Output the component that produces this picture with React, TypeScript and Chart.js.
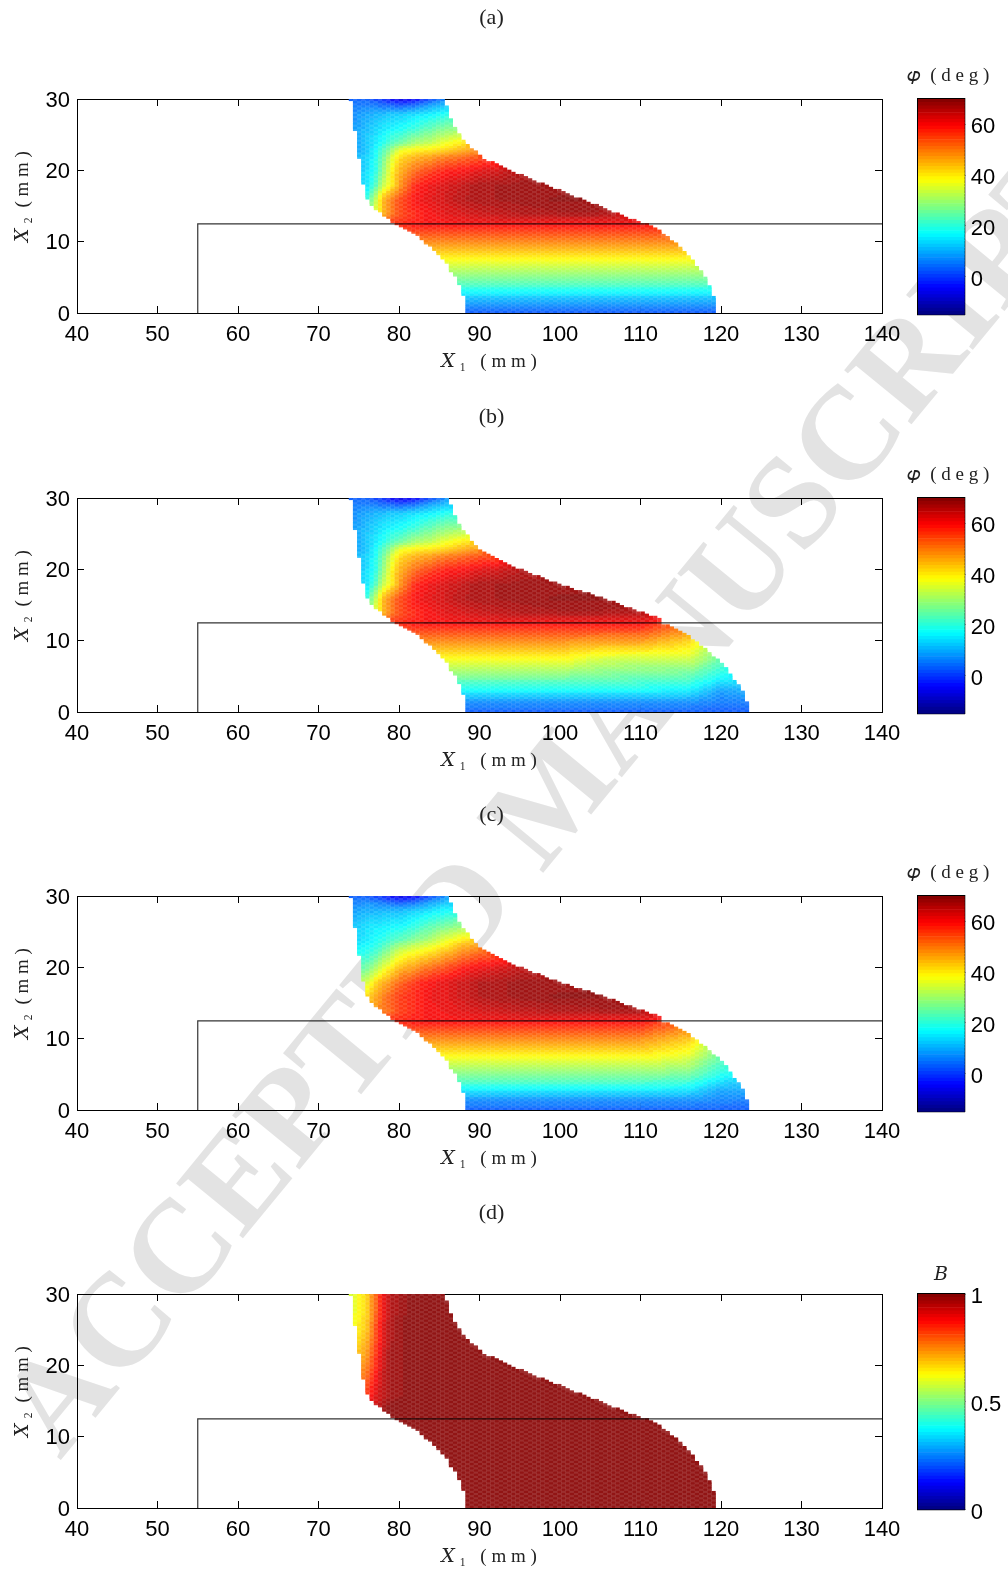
import React, { useEffect, useRef } from "react";
import { Chart, registerables } from "chart.js";
Chart.register(...registerables);

// ---- axis data
const xTicks = [40, 50, 60, 70, 80, 90, 100, 110, 120, 130, 140];
const yTicks = [0, 10, 20, 30];
const phiTicks = [0, 20, 40, 60];
const bTicks = [0, 0.5, 1];
const panelLabels = ["(a)", "(b)", "(c)", "(d)"];
const specimenX1 = [55, 55, 140];
const specimenX2 = [0, 12.5, 12.5];

// ---- edge of the region (X2 at the bottom of each step, X1)
const leftX2 = [0, 2.57, 4.12, 5.28, 5.98, 7.01, 7.62, 8.32, 8.79, 9.35, 9.82, 10.33, 10.8, 11.13, 11.41, 11.83, 12.16, 12.53, 12.9, 13.23, 13.6, 14.17, 14.63, 15.24, 16.13, 18.05, 21.65, 25.62, 29.83];
const leftX1 = [88.34, 87.81, 87.31, 86.77, 86.27, 85.73, 85.2, 84.7, 84.16, 83.62, 83.13, 82.59, 82.09, 81.55, 81.05, 80.52, 80.02, 79.48, 78.94, 78.44, 77.95, 77.41, 76.87, 76.37, 75.88, 75.34, 74.8, 74.26, 73.76];

const rightX2A = [0, 1.87, 3.65, 4.68, 5.75, 7.15, 8.09, 9.26, 10.19, 11.03, 11.83, 12.53, 13.09, 13.7, 15.57, 17.44, 19.31, 19.78, 20.34, 20.95, 21.32, 21.65, 22.11, 22.67, 23.05, 23.66, 24.36, 25.3, 26.09, 27.58, 29.55, 30];
const rightX1A = [119.4, 119.12, 118.62, 118.08, 117.58, 116.55, 115.93, 114.89, 113.86, 112.82, 111.79, 110.25, 108.68, 107.44, 103.29, 99.15, 95.05, 94.02, 92.98, 91.95, 90.91, 90.42, 89.88, 89.38, 88.84, 88.34, 87.8, 87.31, 86.81, 86.27, 85.73, 85.73];

const rightX2B = [0, 1.17, 2.57, 3.5, 4.2, 5.14, 6.78, 8.18, 9.35, 10.75, 11.92, 12.25, 12.53, 12.76, 13, 14.63, 16.36, 17.77, 19.17, 20.1, 20.71, 21.27, 21.83, 22.44, 22.9, 23.5, 24.08, 24.8, 25.5, 26.4, 27.7, 29.55, 30];
const rightX1B = [123.6, 123.3, 122.8, 122.3, 121.7, 121.2, 120.07, 118.6, 117.4, 115.7, 114.07, 112.82, 111.8, 113.36, 112.4, 108.27, 104.1, 99.98, 96.67, 94.6, 93.56, 92.5, 91.49, 90.46, 89.88, 89.38, 88.88, 88.34, 87.8, 87.31, 86.81, 86.27, 86.27];

// ---- field samples
const fieldX1 = [74, 76, 77, 78, 79, 80, 82, 84, 86, 88, 90, 95, 100, 105, 110, 116, 120, 124];
const fieldX2 = [0, 1.5, 3, 5, 7.5, 10, 12.5, 14, 16, 18, 20, 22, 23, 24, 26, 28, 29, 30];

const phiA = [
  [2, 2, 2, 2, 2, 2, 2, 2, 2, 2, 2, 2, 2, 2, 2, 2, 2, 2],
  [8, 8, 8, 8, 8, 8, 8, 8, 8, 8, 8, 8, 8, 8, 8, 8, 8, 8],
  [16, 16, 16, 16, 16, 16, 16, 16, 16, 16, 16, 16, 16, 16, 16, 16, 16, 16],
  [27, 27, 27, 27, 27, 27, 27, 27, 27, 27, 27, 27, 27, 27, 27, 27, 27, 27],
  [38, 38, 38, 38, 38, 38, 38, 38, 38, 38, 38, 38, 38, 38, 38, 38, 38, 38],
  [49, 49, 49, 49, 49, 49, 49, 49, 49, 49, 49, 49, 49, 49, 49, 49, 49, 49],
  [58, 58, 58, 58, 58, 58, 59, 60, 60, 60, 60, 60, 60, 60, 60, 60, 60, 60],
  [12, 20, 34, 44, 50, 54, 58, 60, 62, 63, 64, 66, 67, 67, 63, 60, 60, 60],
  [10, 20, 32, 45, 50, 54, 60, 62, 64, 66, 67, 68, 69, 69, 67, 66, 66, 66],
  [9, 14, 22, 33, 39, 47, 58, 61, 63, 65, 67, 68, 68, 68, 68, 68, 68, 68],
  [9, 14, 18, 28, 38, 45, 52, 56, 59, 60, 62, 66, 66, 66, 66, 66, 66, 66],
  [8, 13, 17, 25, 34, 41, 45, 47, 50, 52, 54, 56, 56, 56, 56, 56, 56, 56],
  [8, 12, 16, 22, 28, 36, 39, 40, 42, 45, 47, 47, 47, 47, 47, 47, 47, 47],
  [8, 12, 15, 18, 22, 25, 30, 33, 37, 40, 42, 42, 42, 42, 42, 42, 42, 42],
  [7, 11, 13, 15, 16, 17, 20, 24, 27, 28, 28, 28, 28, 28, 28, 28, 28, 28],
  [6, 9, 10, 11, 12, 12, 14, 16, 18, 18, 18, 18, 18, 18, 18, 18, 18, 18],
  [5, 6, 6, 5, 5, 4, 6, 10, 13, 13, 13, 13, 13, 13, 13, 13, 13, 13],
  [3, 3, 1, -1, -4, -6, -4, 2, 8, 8, 8, 8, 8, 8, 8, 8, 8, 8],
];

const phiB = [
  [2, 2, 2, 2, 2, 2, 2, 2, 2, 2, 2, 2, 2, 2, 2, 2, 2, 2],
  [7, 7, 7, 7, 7, 7, 7, 7, 7, 7, 7, 7, 7, 7, 7, 7, 5, 5],
  [16, 16, 16, 16, 16, 16, 16, 16, 16, 16, 16, 16, 16, 16, 16, 15, 8, 10],
  [26, 26, 26, 26, 26, 26, 26, 26, 26, 26, 26, 26, 26, 25, 24, 23, 17, 14],
  [38, 38, 38, 38, 38, 38, 38, 38, 38, 38, 38, 38, 38, 34, 33, 34, 24, 20],
  [49, 49, 49, 49, 49, 49, 49, 49, 49, 49, 49, 49, 48, 47, 47, 42, 30, 30],
  [58, 58, 58, 58, 58, 58, 59, 60, 60, 60, 60, 60, 60, 60, 60, 52, 40, 40],
  [12, 20, 34, 44, 50, 54, 58, 60, 62, 63, 64, 66, 67, 67, 66, 65, 65, 65],
  [10, 20, 32, 45, 50, 54, 60, 62, 64, 66, 67, 68, 69, 69, 69, 69, 69, 69],
  [9, 14, 22, 33, 39, 47, 58, 61, 63, 65, 67, 68, 68, 68, 68, 68, 68, 68],
  [9, 14, 18, 28, 38, 45, 52, 56, 59, 60, 62, 66, 66, 66, 66, 66, 66, 66],
  [8, 13, 17, 25, 34, 41, 45, 47, 50, 52, 54, 56, 56, 56, 56, 56, 56, 56],
  [8, 12, 16, 22, 28, 36, 39, 40, 42, 45, 47, 47, 47, 47, 47, 47, 47, 47],
  [8, 12, 15, 18, 22, 25, 30, 33, 37, 40, 42, 42, 42, 42, 42, 42, 42, 42],
  [7, 11, 13, 15, 16, 17, 20, 24, 27, 28, 28, 28, 28, 28, 28, 28, 28, 28],
  [6, 9, 10, 11, 12, 12, 14, 16, 18, 18, 18, 18, 18, 18, 18, 18, 18, 18],
  [5, 6, 6, 5, 5, 4, 6, 10, 13, 13, 13, 13, 13, 13, 13, 13, 13, 13],
  [3, 3, 1, -1, -4, -6, -4, 2, 8, 8, 8, 8, 8, 8, 8, 8, 8, 8],
];

const phiC = [
  [2, 2, 2, 2, 2, 2, 2, 2, 2, 2, 2, 2, 2, 2, 2, 2, 2, 2],
  [7, 7, 7, 7, 7, 7, 7, 7, 7, 7, 7, 7, 7, 7, 7, 7, 6, 5],
  [16, 16, 16, 16, 16, 16, 16, 16, 16, 16, 16, 16, 16, 16, 16, 15, 9, 10],
  [27, 27, 27, 27, 27, 27, 27, 27, 27, 27, 27, 27, 27, 27, 27, 25, 18, 14],
  [38, 38, 38, 38, 38, 38, 38, 38, 38, 38, 38, 38, 38, 38, 38, 35, 24, 20],
  [49, 49, 49, 49, 49, 49, 49, 49, 49, 49, 49, 49, 48, 48, 48, 43, 30, 30],
  [58, 58, 58, 58, 58, 58, 59, 60, 60, 60, 60, 60, 60, 60, 60, 52, 40, 40],
  [40, 44, 47, 50, 52, 55, 58, 60, 61, 62, 63, 65, 66, 67, 67, 66, 66, 66],
  [38, 42, 46, 50, 53, 56, 58, 61, 62, 64, 66, 68, 69, 69, 69, 69, 69, 69],
  [28, 34, 41, 45, 48, 52, 57, 60, 62, 64, 66, 68, 68, 68, 68, 68, 68, 68],
  [22, 26, 30, 36, 40, 44, 48, 52, 55, 59, 61, 65, 66, 66, 66, 66, 66, 66],
  [17, 19, 22, 27, 30, 36, 39, 42, 46, 50, 53, 56, 56, 56, 56, 56, 56, 56],
  [15, 17, 19, 22, 26, 30, 34, 37, 41, 46, 48, 48, 48, 48, 48, 48, 48, 48],
  [13, 15, 17, 19, 21, 23, 27, 31, 36, 40, 42, 42, 42, 42, 42, 42, 42, 42],
  [11, 14, 15, 15, 16, 16, 19, 23, 26, 28, 28, 28, 28, 28, 28, 28, 28, 28],
  [8, 10, 10, 11, 11, 11, 13, 15, 17, 18, 18, 18, 18, 18, 18, 18, 18, 18],
  [6, 7, 7, 6, 5, 4, 6, 10, 13, 13, 13, 13, 13, 13, 13, 13, 13, 13],
  [3, 3, 1, -1, -4, -6, -4, 2, 8, 8, 8, 8, 8, 8, 8, 8, 8, 8],
];

const bD = [
  [1, 1, 1, 1, 1, 1, 1, 1, 1, 1, 1, 1, 1, 1, 1, 1, 1, 1],
  [1, 1, 1, 1, 1, 1, 1, 1, 1, 1, 1, 1, 1, 1, 1, 1, 1, 1],
  [1, 1, 1, 1, 1, 1, 1, 1, 1, 1, 1, 1, 1, 1, 1, 1, 1, 1],
  [1, 1, 1, 1, 1, 1, 1, 1, 1, 1, 1, 1, 1, 1, 1, 1, 1, 1],
  [1, 1, 1, 1, 1, 1, 1, 1, 1, 1, 1, 1, 1, 1, 1, 1, 1, 1],
  [1, 1, 1, 1, 1, 1, 1, 1, 1, 1, 1, 1, 1, 1, 1, 1, 1, 1],
  [1, 1, 1, 1, 1, 1, 1, 1, 1, 1, 1, 1, 1, 1, 1, 1, 1, 1],
  [0.9, 0.9, 0.93, 0.97, 1, 1, 1, 1, 1, 1, 1, 1, 1, 1, 1, 1, 1, 1],
  [0.8, 0.84, 0.9, 0.94, 0.97, 0.98, 1, 1, 1, 1, 1, 1, 1, 1, 1, 1, 1, 1],
  [0.7, 0.8, 0.88, 0.94, 0.97, 0.98, 1, 1, 1, 1, 1, 1, 1, 1, 1, 1, 1, 1],
  [0.67, 0.76, 0.84, 0.93, 0.97, 0.98, 1, 1, 1, 1, 1, 1, 1, 1, 1, 1, 1, 1],
  [0.65, 0.73, 0.83, 0.92, 0.97, 0.98, 1, 1, 1, 1, 1, 1, 1, 1, 1, 1, 1, 1],
  [0.63, 0.72, 0.82, 0.91, 0.97, 0.98, 1, 1, 1, 1, 1, 1, 1, 1, 1, 1, 1, 1],
  [0.62, 0.7, 0.81, 0.9, 0.96, 0.98, 1, 1, 1, 1, 1, 1, 1, 1, 1, 1, 1, 1],
  [0.6, 0.68, 0.8, 0.9, 0.96, 0.98, 1, 1, 1, 1, 1, 1, 1, 1, 1, 1, 1, 1],
  [0.58, 0.67, 0.78, 0.88, 0.95, 0.97, 1, 1, 1, 1, 1, 1, 1, 1, 1, 1, 1, 1],
  [0.58, 0.67, 0.78, 0.88, 0.95, 0.97, 1, 1, 1, 1, 1, 1, 1, 1, 1, 1, 1, 1],
  [0.58, 0.67, 0.78, 0.88, 0.95, 0.97, 1, 1, 1, 1, 1, 1, 1, 1, 1, 1, 1, 1],
];

// ---- display helpers
const CELL_X = 0.518;
const CELL_Y = 0.3;
const CELL_X0 = 73.76;
const PLOT_L = 77;
const PLOT_R = 882;
const PLOT_H = 214;

const clamp01 = (v: number) => Math.max(0, Math.min(1, v));
function jet(t: number): [number, number, number] {
  const f = (c: number) => clamp01(1.5 - Math.abs(4 * t - c));
  return [f(3), f(2), f(1)];
}
function levelColor(t: number, alpha: number) {
  const level = Math.min(63, Math.max(0, Math.floor(clamp01(t) * 64)));
  const [r, g, b] = jet((level + 0.5) / 64);
  const mix = (c: number) => Math.round(255 * (c * alpha + 1 - alpha));
  return `rgb(${mix(r)},${mix(g)},${mix(b)})`;
}
function bracket(xs: number[], v: number) {
  let i = 0;
  while (i < xs.length - 2 && v > xs[i + 1]) i++;
  const f = (v - xs[i]) / (xs[i + 1] - xs[i]);
  return [i, Math.max(0, Math.min(1, f))];
}
function sampleField(table: number[][], x: number, y: number) {
  const [i, fx] = bracket(fieldX1, x);
  const [j, fy] = bracket(fieldX2, y);
  const a = table[j][i] * (1 - fx) + table[j][i + 1] * fx;
  const b = table[j + 1][i] * (1 - fx) + table[j + 1][i + 1] * fx;
  return a * (1 - fy) + b * fy;
}
function edgeAt(x2s: number[], x1s: number[], y: number) {
  const [i, f] = bracket(x2s, y);
  return x1s[i] * (1 - f) + x1s[i + 1] * f;
}
function leftStep(y: number) {
  let v = leftX1[0];
  for (let i = 0; i < leftX2.length; i++) if (y >= leftX2[i]) v = leftX1[i];
  return v;
}

function buildCells(table: number[][], rX2: number[], rX1: number[], lo: number, hi: number) {
  const pts: { x: number; y: number }[] = [];
  const colors: string[] = [];
  const rows = Math.round(30 / CELL_Y);
  for (let r = 0; r <= rows; r++) {
    const y = r * CELL_Y;
    const left = leftStep(y);
    const right = edgeAt(rX2, rX1, y);
    for (let k = 0; k < 110; k++) {
      const cx = CELL_X0 + (k + 0.5) * CELL_X;
      if (cx - CELL_X / 2 < left - 0.1 || cx + CELL_X / 2 > right + 0.3) continue;
      pts.push({ x: cx, y });
      // the printed cells overlap a little: alternate a denser and a paler cell
      const alpha = (r + k) % 2 ? 0.82 : 0.92;
      colors.push(levelColor((sampleField(table, cx, y) - lo) / (hi - lo), alpha));
    }
  }
  return { pts, colors };
}

const tickFont = { family: "'Liberation Sans', Arial, sans-serif", size: 22 };
const serif = "'Liberation Serif', 'DejaVu Serif', serif";
const NB = "\u00A0";
const PREFIX = NB + NB + NB + NB;
const X1_TITLE = PREFIX + "𝑋" + NB + "₁" + NB + NB + NB + "(" + NB + "m" + NB + "m" + NB + ")";
const X2_TITLE = PREFIX + "𝑋" + NB + "₂" + NB + NB + "(" + NB + "m" + NB + "m" + NB + ")";

function fixed(kind: "width" | "height", v: number) {
  return (s: any) => {
    s[kind] = v;
  };
}
const setTicks = (vals: number[]) => (s: any) => {
  s.ticks = vals.map((value) => ({ value }));
};
const plainLabel = (v: number) => String(v);

// canvas 'middle' text sits a little high for these digits
const nudgeLabels = (dy: number) => ({
  id: "nudgeLabels",
  beforeDraw(chart: any) {
    const s = chart.scales.y;
    if (!s) return;
    for (const item of s.getLabelItems()) {
      if (!item.nudged) {
        item.options.translation[1] += dy;
        item.nudged = true;
      }
    }
  },
});

function Panel({ top, label, table, rX2, rX1, lo, hi }: any) {
  const ref = useRef<HTMLCanvasElement>(null);
  useEffect(() => {
    const { pts, colors } = buildCells(table, rX2, rX1, lo, hi);
    const line = specimenX1.map((x, i) => ({ x, y: specimenX2[i] }));
    const grid = { drawOnChartArea: false, tickLength: -7, tickColor: "#000", tickWidth: 1 };
    const border = { display: true, color: "#000", width: 1 };
    const chart = new Chart(ref.current!, {
      type: "scatter",
      plugins: [nudgeLabels(1.7)],
      data: {
        datasets: [
          { data: line, showLine: true, borderColor: "rgba(0,0,0,0.8)", borderWidth: 1.2, pointRadius: 0, order: 0, clip: 0 } as any,
          { data: pts, pointStyle: "rect", pointRadius: 2.95, pointBorderWidth: 0, pointBackgroundColor: colors, showLine: false, order: 1, clip: 0 } as any,
        ],
      },
      options: {
        animation: false,
        responsive: false,
        devicePixelRatio: 1,
        layout: { padding: 0 },
        plugins: {
          legend: { display: false },
          tooltip: { enabled: false },
          title: {
            display: true,
            text: label,
            color: "#222",
            font: { family: serif, size: 22, weight: "normal", lineHeight: 1.2 },
            padding: { top: 5, bottom: 67.6 },
          },
        },
        scales: {
          x: {
            type: "linear", position: "bottom", min: 40, max: 140, grid, border,
            afterBuildTicks: setTicks(xTicks), afterFit: fixed("height", 60),
            ticks: { color: "#000", font: tickFont, padding: 16, maxRotation: 0, autoSkip: false, callback: plainLabel },
            title: { display: true, text: X1_TITLE, color: "#222", font: { family: serif, size: 19 }, padding: 0 },
          },
          xTop: {
            type: "linear", position: "top", min: 40, max: 140, grid, border,
            afterBuildTicks: setTicks(xTicks), afterFit: fixed("height", 0),
            ticks: { display: false, autoSkip: false },
          },
          y: {
            type: "linear", position: "left", min: 0, max: 30, grid, border,
            afterBuildTicks: setTicks(yTicks), afterFit: fixed("width", PLOT_L),
            ticks: { color: "#000", font: tickFont, padding: 14, autoSkip: false, callback: plainLabel },
            title: { display: true, text: X2_TITLE, color: "#222", font: { family: serif, size: 19 }, padding: { top: 12, bottom: 0 } },
          },
          yRight: {
            type: "linear", position: "right", min: 0, max: 30, grid, border,
            afterBuildTicks: setTicks(yTicks), afterFit: fixed("width", 983 - PLOT_R),
            ticks: { display: false, autoSkip: false },
          },
        },
      } as any,
    });
    return () => chart.destroy();
  }, []);
  return (
    <canvas
      ref={ref}
      width={983}
      height={99 + PLOT_H + 60}
      style={{ position: "absolute", left: 0, top: top - 99, width: 983, height: 99 + PLOT_H + 60 }}
    />
  );
}

function ColorBar({ top, title, lo, hi, ticks, titlePad }: any) {
  const ref = useRef<HTMLCanvasElement>(null);
  useEffect(() => {
    const step = (hi - lo) / 64;
    const levels = Array.from({ length: 64 }, (_, i) => i);
    const grid = { drawOnChartArea: false, tickLength: -2, tickColor: "#000", tickWidth: 1 };
    const border = { display: true, color: "#000", width: 1.3 };
    const chart = new Chart(ref.current!, {
      type: "bar",
      plugins: [nudgeLabels(3)],
      data: {
        labels: [title],
        datasets: levels.map((i) => ({
          data: [[lo + i * step, lo + (i + 1) * step]],
          backgroundColor: levelColor((i + 0.5) / 64, 1),
          borderWidth: 0,
          grouped: false,
          barPercentage: 1,
          categoryPercentage: 1,
        })) as any,
      },
      options: {
        animation: false,
        responsive: false,
        devicePixelRatio: 1,
        layout: { padding: 0 },
        plugins: {
          legend: { display: false },
          tooltip: { enabled: false },
          title: {
            display: true,
            text: title,
            color: "#222",
            font: { family: serif, size: 19, weight: "normal", lineHeight: 1.2 },
            padding: titlePad,
          },
        },
        scales: {
          x: {
            type: "category", position: "bottom", border,
            grid: { display: false }, ticks: { display: false },
            afterFit: fixed("height", 20),
          },
          xTop: {
            type: "linear", position: "top", border, min: 0, max: 1,
            grid: { display: false }, ticks: { display: false },
            afterFit: fixed("height", 0),
          },
          y: {
            type: "linear", position: "right", min: lo, max: hi, grid, border,
            afterBuildTicks: setTicks(ticks), afterFit: fixed("width", 43.3),
            ticks: { color: "#000", font: tickFont, padding: 8, autoSkip: false, callback: plainLabel },
          },
          yLeft: {
            type: "linear", position: "left", min: lo, max: hi, grid, border,
            afterBuildTicks: setTicks(ticks), afterFit: fixed("width", 30),
            ticks: { display: false, autoSkip: false },
          },
        },
      } as any,
    });
    return () => chart.destroy();
  }, []);
  return (
    <canvas
      ref={ref}
      width={120}
      height={277}
      style={{ position: "absolute", left: 888, top: top - 40, width: 120, height: 277 }}
    />
  );
}

const PANEL_TOPS = [99, 498, 896, 1294];
const PHI_TITLE = "𝜑" + NB + NB + "(" + NB + "d" + NB + "e" + NB + "g" + NB + ")";
const B_TITLE = "𝐵" + NB + NB + NB;
const PHI_PAD = { top: 6, bottom: 11.2 };
const B_PAD = { top: 9.6, bottom: 7.6 };

export default function App() {
  return (
    <div style={{ position: "absolute", left: 0, top: 0, width: 1008, height: 1573, overflow: "hidden", background: "#fff" }}>
      <div
        style={{
          position: "absolute",
          left: 77,
          top: 1475,
          transformOrigin: "0 100%",
          transform: "translateY(-100%) rotate(-50.6deg)",
          whiteSpace: "nowrap",
          color: "#e3e3e3",
          fontFamily: serif,
          fontWeight: "bold",
          fontSize: 132,
          lineHeight: 1,
        }}
      >
        ACCEPTED MANUSCRIPT
      </div>
      <Panel top={PANEL_TOPS[0]} label={panelLabels[0]} table={phiA} rX2={rightX2A} rX1={rightX1A} lo={-15} hi={70} />
      <ColorBar top={PANEL_TOPS[0]} title={PHI_TITLE} lo={-15} hi={70} ticks={phiTicks} titlePad={PHI_PAD} />
      <Panel top={PANEL_TOPS[1]} label={panelLabels[1]} table={phiB} rX2={rightX2B} rX1={rightX1B} lo={-15} hi={70} />
      <ColorBar top={PANEL_TOPS[1]} title={PHI_TITLE} lo={-15} hi={70} ticks={phiTicks} titlePad={PHI_PAD} />
      <Panel top={PANEL_TOPS[2]} label={panelLabels[2]} table={phiC} rX2={rightX2B} rX1={rightX1B} lo={-15} hi={70} />
      <ColorBar top={PANEL_TOPS[2]} title={PHI_TITLE} lo={-15} hi={70} ticks={phiTicks} titlePad={PHI_PAD} />
      <Panel top={PANEL_TOPS[3]} label={panelLabels[3]} table={bD} rX2={rightX2A} rX1={rightX1A} lo={0} hi={1} />
      <ColorBar top={PANEL_TOPS[3]} title={B_TITLE} lo={0} hi={1} ticks={bTicks} titlePad={B_PAD} />
    </div>
  );
}
